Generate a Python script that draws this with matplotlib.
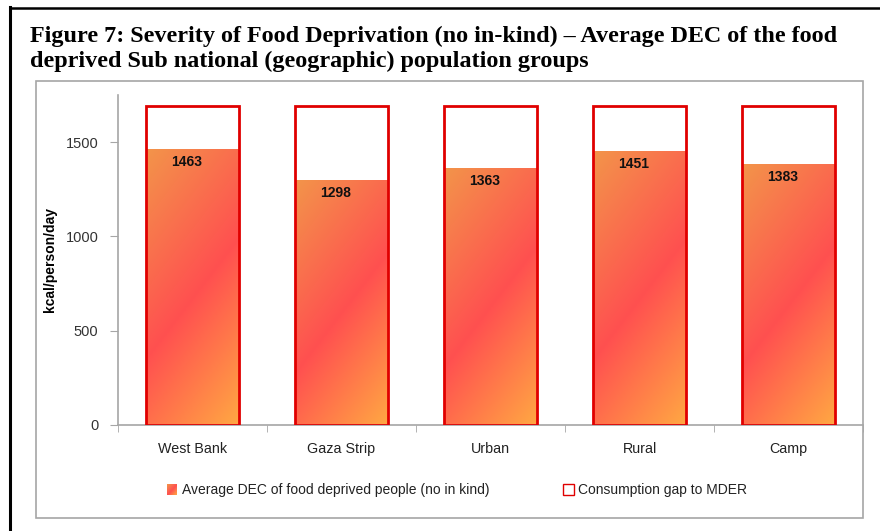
import numpy as np
import matplotlib.pyplot as plt
from matplotlib.patches import Rectangle
from matplotlib.colors import LinearSegmentedColormap
from matplotlib.lines import Line2D

#---------------- DADOS ----------------

groups = ["West Bank", "Gaza Strip", "Urban", "Rural", "Camp"]
dec_values = [1463, 1298, 1363, 1451, 1383]
gap_values = [227, 392, 327, 239, 307]
y_ticks = [0, 500, 1000, 1500]

title_lines = ["Figure 7: Severity of Food Deprivation (no in-kind) \u2013 Average DEC of the food",
               "deprived Sub national (geographic) population groups"]
legend_labels = ["Average DEC of food deprived people (no in kind)", "Consumption gap to MDER"]

#---------------- ESTILO ----------------

red_edge = "#E00000"
axis_gray = "#A6A6A6"
grad = LinearSegmentedColormap.from_list(
    "dec", [(0.0, "#F3944A"), (0.53, "#FF5050"), (1.0, "#FFA743")])

plt.rcParams['font.family'] = ['Liberation Sans', 'DejaVu Sans']

fig = plt.figure(figsize=(8.8, 5.31), dpi=100)
W, H = 880, 531

# moldura preta externa
fig.add_artist(Line2D([10 / W, 10 / W], [0, 1 - 7 / H], transform=fig.transFigure,
                      color="black", lw=2.2))
fig.add_artist(Line2D([10 / W, 1], [1 - 7.5 / H, 1 - 7.5 / H], transform=fig.transFigure,
                      color="black", lw=1.8))
# caixa cinza do grafico
fig.add_artist(Rectangle((36 / W, 1 - 518 / H), (863 - 36) / W, (518 - 81) / H,
                         transform=fig.transFigure, fill=False, ec=axis_gray, lw=1.2))

for i, line in enumerate(title_lines):
    fig.text(30 / W, 1 - (42 + 25 * i) / H, line, ha="left", va="baseline", fontsize=17.4,
             fontweight="bold", family=["Liberation Serif", "DejaVu Serif"])

ax = fig.add_axes([118 / W, 1 - 425 / H, (863 - 118) / W, (425 - 95) / H])

x = np.arange(len(groups))
width = 0.62
totals = [d + g for d, g in zip(dec_values, gap_values)]

# fundo branco da barra completa
ax.bar(x, totals, width, color="white", edgecolor="none", zorder=1)
dec_bars = ax.bar(x, dec_values, width, color="none", edgecolor="none", zorder=2)

# gradiente diagonal dentro de cada barra
px_per_unit = (425 - 95) / 1750
for bar, val in zip(dec_bars, dec_values):
    x0 = bar.get_x()
    hpx = val * px_per_unit
    u = np.linspace(0, 92, 60)
    v = np.linspace(0, hpx, 200)
    U, V = np.meshgrid(u, v)
    s = 117 * U - 90 * V
    t = (s - s.min()) / (s.max() - s.min())
    im = ax.imshow(t, cmap=grad, origin="lower", aspect="auto",
                   extent=[x0, x0 + width, 0, val], zorder=2, interpolation="bilinear")
    im.set_clip_path(bar)

ax.bar(x, totals, width, color="none", edgecolor=red_edge, linewidth=2.0, zorder=3)

for xi, val in zip(x, dec_values):
    ax.text(xi - 0.04, val - 32, str(val), ha="center", va="top", fontsize=10,
            fontweight="bold", color="#111111", zorder=4)

ax.set_xlim(-0.5, len(groups) - 0.5)
ax.set_ylim(0, 1750)
ax.set_yticks(y_ticks)
ax.set_yticklabels([str(v) for v in y_ticks], fontsize=10.5, color="#333333")
ax.set_xticks(x)
ax.set_xticklabels(groups, fontsize=10.3, color="#222222")
ax.set_xticks(np.arange(-0.5, len(groups)), minor=True)
ax.tick_params(axis="x", which="major", length=0, pad=12)
ax.tick_params(axis="x", which="minor", length=5, color=axis_gray, direction="out")
ax.tick_params(axis="y", length=6, color=axis_gray, direction="out", pad=8)
for side in ["top", "right"]:
    ax.spines[side].set_visible(False)
for side in ["left", "bottom"]:
    ax.spines[side].set_color(axis_gray)
    ax.spines[side].set_linewidth(1.2)
ax.set_ylabel("kcal/person/day", fontsize=10, fontweight="bold", labelpad=6)

# legenda manual
lax = fig.add_axes([167 / W, 1 - 495 / H, 10 / W, 11 / H])
gy, gx = np.mgrid[0:1:20j, 0:1:20j]
lax.imshow((gx + (1 - gy)) / 2, cmap=grad, origin="lower", aspect="auto")
lax.axis("off")
fig.text(182 / W, 1 - 490 / H, legend_labels[0], ha="left", va="center", fontsize=10,
         color="#222222")
fig.add_artist(Rectangle((563 / W, 1 - 495 / H), 11 / W, 11 / H, transform=fig.transFigure,
                         fill=False, ec=red_edge, lw=1.0))
fig.text(578 / W, 1 - 490 / H, legend_labels[1], ha="left", va="center", fontsize=10,
         color="#222222")

fig.savefig("out.png", dpi=100)
